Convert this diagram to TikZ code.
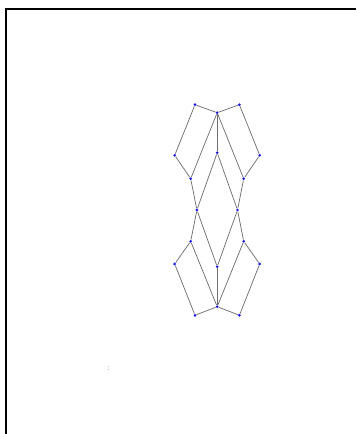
\documentclass[tikz,border=0pt]{standalone}
\begin{document}
\begin{tikzpicture}[x=0.75pt,y=-0.75pt,
  vdot/.style={circle,fill={rgb,255:red,20;green,20;blue,230},draw=none,inner sep=0pt,minimum size=2.2pt},
  edge/.style={draw={rgb,255:red,110;green,110;blue,110},line width=0.55pt},
  frame/.style={draw=black,line width=1.6pt}]
\useasboundingbox (0,0) rectangle (356,434);
\draw[frame] (356,9) -- (6,9) -- (6,434);
% nodes
\node[vdot] (A)  at (195.0,104.7) {};
\node[vdot] (B)  at (239.4,104.7) {};
\node[vdot] (T)  at (217.2,112.7) {};
\node[vdot] (L1) at (174.7,155.3) {};
\node[vdot] (R1) at (259.7,155.3) {};
\node[vdot] (M1) at (217.2,152.7) {};
\node[vdot] (L2) at (190.7,178.7) {};
\node[vdot] (R2) at (243.7,178.7) {};
\node[vdot] (ML) at (196.9,210.0) {};
\node[vdot] (MR) at (237.5,210.0) {};
\node[vdot] (L3) at (190.7,241.3) {};
\node[vdot] (R3) at (243.7,241.3) {};
\node[vdot] (L4) at (174.7,264.0) {};
\node[vdot] (R4) at (259.7,264.0) {};
\node[vdot] (M2) at (217.2,266.7) {};
\node[vdot] (Bo) at (217.2,306.7) {};
\node[vdot] (C)  at (195.0,315.3) {};
\node[vdot] (D)  at (239.4,315.3) {};
% edges, top half
\draw[edge] (A) -- (T);
\draw[edge] (T) -- (B);
\draw[edge] (A) -- (L1);
\draw[edge] (B) -- (R1);
\draw[edge] (L1) -- (L2);
\draw[edge] (R1) -- (R2);
\draw[edge] (T) -- (M1);
\draw[edge] (T) -- (L2);
\draw[edge] (T) -- (R2);
\draw[edge] (M1) -- (ML);
\draw[edge] (M1) -- (MR);
\draw[edge] (L2) -- (ML);
\draw[edge] (R2) -- (MR);
% edges, bottom half
\draw[edge] (C) -- (Bo);
\draw[edge] (Bo) -- (D);
\draw[edge] (C) -- (L4);
\draw[edge] (D) -- (R4);
\draw[edge] (L4) -- (L3);
\draw[edge] (R4) -- (R3);
\draw[edge] (Bo) -- (M2);
\draw[edge] (Bo) -- (L3);
\draw[edge] (Bo) -- (R3);
\draw[edge] (M2) -- (ML);
\draw[edge] (M2) -- (MR);
\draw[edge] (L3) -- (ML);
\draw[edge] (R3) -- (MR);
% tiny label
\node[text={rgb,255:red,120;green,120;blue,120},font=\fontsize{6.5}{6.5}\selectfont,inner sep=0pt] (lbl) at (108.5,369) {:};
\end{tikzpicture}
\end{document}
